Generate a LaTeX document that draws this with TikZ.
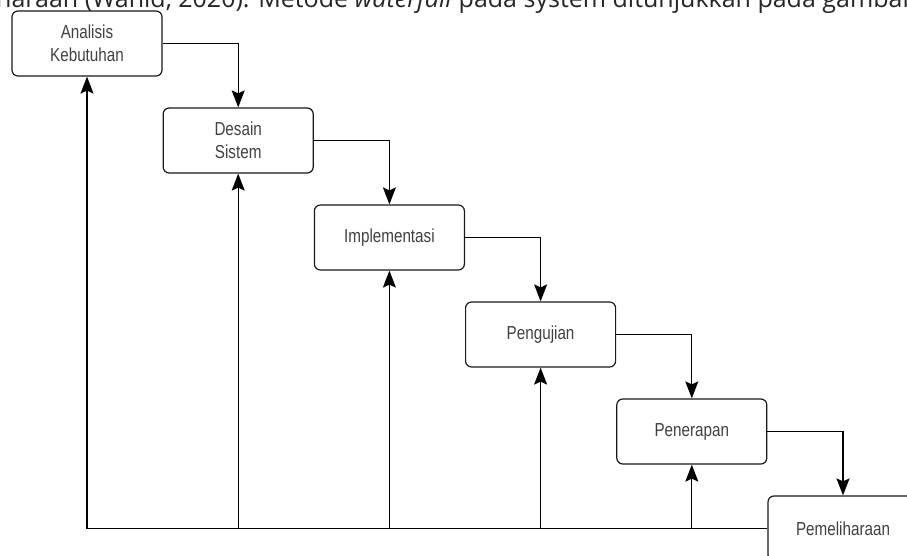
\documentclass[tikz,border=0pt]{standalone}
\usepackage{fontspec}
\setmainfont{Open Sans}
\newfontfamily\boxfont[FakeStretch=0.81]{Liberation Sans}
\usetikzlibrary{arrows.meta}

\tikzset{
  tahap/.style={draw=black!90, line width=1.2pt, rounded corners=6pt,
    minimum width=150pt, minimum height=65pt, align=center,
    text=black!75, font=\boxfont\fontsize{18.8}{23}\selectfont},
  panah/.style={draw=black, line width=1.2pt,
    -{Stealth[length=17pt,width=13pt,inset=3pt]}},
  garis/.style={draw=black, line width=1.2pt}
}

\begin{document}
\begin{tikzpicture}[x=1pt, y=-1pt]
  \useasboundingbox (0,0) rectangle (907,556);
  \clip (0,0) rectangle (907,556);

  % kalimat terpotong di atas
  \node[anchor=base west, inner sep=0pt, text=black!85,
    font=\fontsize{25}{30}\selectfont] (kalimat) at (-4,7.5)
    {haraan (Wahid, 2020). Metode \textit{waterfall} pada system ditunjukkan pada gambar};

  % tahapan waterfall
  \foreach \nama/\isi [count=\i from 0] in {
      analisis/{Analisis\\Kebutuhan},
      desain/{Desain\\Sistem},
      implementasi/Implementasi,
      pengujian/Pengujian,
      penerapan/Penerapan,
      pemeliharaan/Pemeliharaan}
    \node[tahap] (\nama) at (87+151.2*\i, 43.5+97*\i) {\isi};

  % panah turun
  \draw[panah] (analisis.east) -| (desain.north);
  \draw[panah] (desain.east) -| (implementasi.north);
  \draw[panah] (implementasi.east) -| (pengujian.north);
  \draw[panah] (pengujian.east) -| (penerapan.north);
  \draw[panah] (penerapan.east) -| (pemeliharaan.north);

  % jalur balik
  \draw[garis] (pemeliharaan.west) -- (analisis |- pemeliharaan.west);
  \foreach \nama in {analisis, desain, implementasi, pengujian, penerapan}
    \draw[panah] (\nama |- pemeliharaan.west) -- (\nama.south);
\end{tikzpicture}
\end{document}
